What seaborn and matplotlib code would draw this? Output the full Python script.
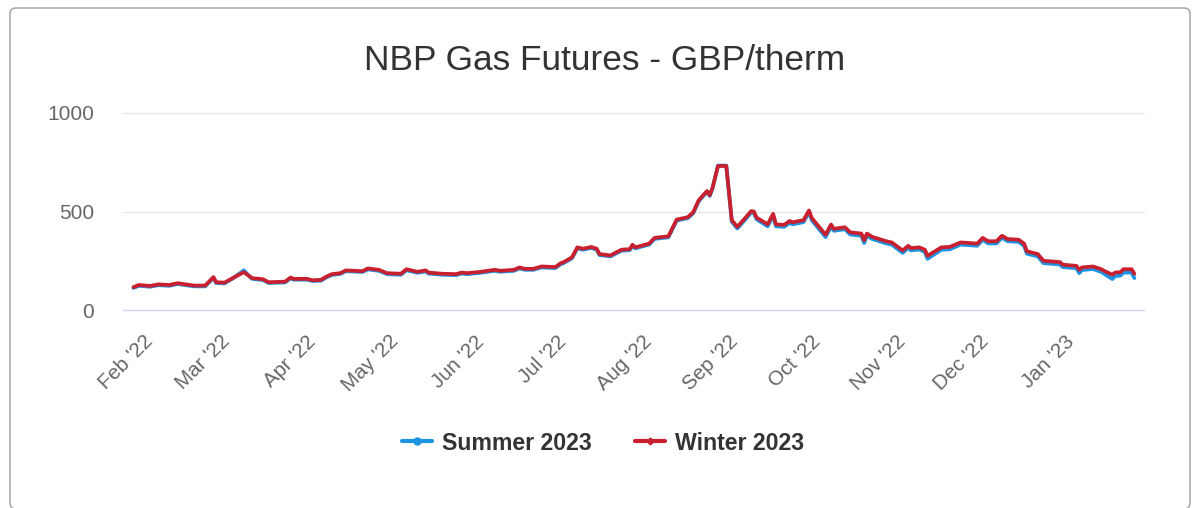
"""NBP gas futures chart, Highcharts-like styling via seaborn."""

import matplotlib

matplotlib.use("Agg")
import matplotlib.dates as mdates
import matplotlib.pyplot as plt
import numpy as np
import pandas as pd
import seaborn as sns
from matplotlib.lines import Line2D
from matplotlib.patches import FancyBboxPatch
from matplotlib.transforms import IdentityTransform

# --- data (GBP/therm) ---
dates = [
    "2022-01-26", "2022-01-28", "2022-02-01", "2022-02-04", "2022-02-08", "2022-02-11",
    "2022-02-17", "2022-02-21", "2022-02-24", "2022-02-25", "2022-02-28", "2022-03-03",
    "2022-03-07", "2022-03-10", "2022-03-14", "2022-03-16", "2022-03-22", "2022-03-24",
    "2022-03-25", "2022-03-30", "2022-04-01", "2022-04-04", "2022-04-06", "2022-04-08",
    "2022-04-11", "2022-04-13", "2022-04-19", "2022-04-21", "2022-04-25", "2022-04-28",
    "2022-05-03", "2022-05-05", "2022-05-09", "2022-05-12", "2022-05-13", "2022-05-18",
    "2022-05-23", "2022-05-25", "2022-05-27", "2022-06-01", "2022-06-06", "2022-06-08",
    "2022-06-13", "2022-06-15", "2022-06-17", "2022-06-20", "2022-06-23", "2022-06-28",
    "2022-06-30", "2022-07-01", "2022-07-04", "2022-07-06", "2022-07-08", "2022-07-11",
    "2022-07-13", "2022-07-14", "2022-07-18", "2022-07-20", "2022-07-22", "2022-07-25",
    "2022-07-26", "2022-07-27", "2022-08-01", "2022-08-03", "2022-08-08", "2022-08-11",
    "2022-08-15", "2022-08-17", "2022-08-19", "2022-08-22", "2022-08-23", "2022-08-24",
    "2022-08-26", "2022-08-29", "2022-08-31", "2022-09-02", "2022-09-05", "2022-09-07",
    "2022-09-08", "2022-09-09", "2022-09-13", "2022-09-15", "2022-09-16", "2022-09-19",
    "2022-09-21", "2022-09-22", "2022-09-26", "2022-09-28", "2022-09-29", "2022-10-04",
    "2022-10-06", "2022-10-07", "2022-10-11", "2022-10-13", "2022-10-17", "2022-10-18",
    "2022-10-19", "2022-10-21", "2022-10-26", "2022-10-28", "2022-11-01", "2022-11-03",
    "2022-11-04", "2022-11-07", "2022-11-09", "2022-11-10", "2022-11-15", "2022-11-18",
    "2022-11-22", "2022-11-28", "2022-11-30", "2022-12-02", "2022-12-05", "2022-12-07",
    "2022-12-09", "2022-12-13", "2022-12-15", "2022-12-16", "2022-12-20", "2022-12-22",
    "2022-12-28", "2022-12-29", "2023-01-03", "2023-01-04", "2023-01-05", "2023-01-09",
    "2023-01-12", "2023-01-13", "2023-01-16", "2023-01-17", "2023-01-19", "2023-01-20",
    "2023-01-23", "2023-01-24",
]

winter_2023 = [
    116, 127, 122, 130, 127, 136, 124, 124, 167, 141, 139, 162,
    192, 162, 156, 141, 144, 165, 158, 158, 151, 153, 170, 182,
    187, 201, 197, 211, 204, 187, 184, 207, 194, 201, 190, 184,
    182, 190, 187, 194, 204, 199, 204, 216, 209, 209, 221, 218,
    238, 243, 267, 318, 311, 320, 311, 284, 277, 292, 306, 309,
    331, 318, 337, 366, 374, 459, 471, 496, 557, 604, 583, 620,
    731, 731, 456, 422, 469, 502, 500, 469, 435, 488, 435, 432,
    452, 445, 456, 505, 467, 382, 434, 412, 420, 394, 388, 354,
    388, 371, 349, 343, 302, 326, 314, 318, 306, 275, 318, 320,
    343, 337, 366, 349, 349, 377, 360, 357, 337, 298, 284, 250,
    243, 230, 224, 204, 216, 221, 207, 199, 179, 190, 192, 207,
    207, 184,
]

summer_2023 = [
    112, 123, 118, 126, 123, 132, 120, 120, 163, 137, 135, 160,
    201, 158, 152, 137, 140, 161, 154, 154, 147, 149, 166, 178,
    183, 197, 193, 206, 199, 182, 179, 202, 189, 196, 185, 179,
    177, 185, 182, 189, 199, 194, 199, 211, 204, 204, 216, 213,
    233, 238, 262, 313, 306, 315, 306, 279, 272, 287, 301, 304,
    326, 313, 332, 361, 369, 454, 466, 491, 552, 600, 579, 617,
    733, 733, 448, 414, 461, 494, 492, 460, 425, 478, 425, 422,
    442, 435, 446, 497, 456, 370, 424, 402, 410, 383, 377, 340,
    377, 360, 338, 332, 290, 315, 303, 307, 295, 260, 306, 308,
    332, 326, 356, 338, 338, 367, 349, 346, 326, 286, 272, 238,
    231, 218, 212, 187, 203, 208, 193, 184, 157, 172, 175, 190,
    190, 162,
]

series_names = ["Summer 2023", "Winter 2023"]
series_colors = ["#1d93e3", "#c8202f"]
y_ticks = [0, 500, 1000]

# --- styling ---
sns.set_style("white")
plt.rcParams["font.family"] = ["Liberation Sans", "DejaVu Sans"]

W, H, DPI = 1200, 508, 100
fig = plt.figure(figsize=(W / DPI, H / DPI), dpi=DPI)

# outer rounded frame, in pixel coordinates
frame = FancyBboxPatch(
    (10, -1), 1180, 501, boxstyle="round,pad=0,rounding_size=6",
    transform=IdentityTransform(), facecolor="none", edgecolor="#adadad",
    linewidth=1.2, zorder=0,
)
fig.patches.append(frame)

ax = fig.add_axes([123 / W, 1 - 310 / H, (1144 - 123) / W, (310 - 113) / H])

df = pd.DataFrame({"date": pd.to_datetime(dates), "Summer 2023": summer_2023,
                   "Winter 2023": winter_2023})
long = df.melt(id_vars="date", var_name="series", value_name="price")

sns.lineplot(
    data=long, x="date", y="price", hue="series", hue_order=series_names,
    palette=series_colors, linewidth=2.7, estimator=None, legend=False, ax=ax,
)

x0 = pd.Timestamp("2022-02-01")
ax.set_xlim(x0 - pd.Timedelta(days=9.8), x0 + pd.Timedelta(days=360.5))
ax.set_ylim(0, 1000)
ax.set_yticks(y_ticks)
ax.set_xlabel("")
ax.set_ylabel("")

for v in y_ticks[1:]:
    ax.axhline(v, color="#e6e6e6", linewidth=1.0, zorder=0, clip_on=False)

for side in ("left", "right", "top"):
    ax.spines[side].set_visible(False)
ax.spines["bottom"].set_color("#ccd6eb")
ax.spines["bottom"].set_linewidth(1.0)

ax.xaxis.set_major_locator(mdates.MonthLocator())
ax.xaxis.set_major_formatter(mdates.DateFormatter("%b '%y"))
ax.tick_params(axis="x", length=13, width=0.8, color="#ccd6eb", pad=7.5,
               labelsize=14.8, labelcolor="#666666")
ax.tick_params(axis="y", length=0, pad=21, labelsize=15, labelcolor="#666666")
for lbl in ax.get_xticklabels():
    lbl.set_rotation(45)
    lbl.set_ha("right")
    lbl.set_va("center")
    lbl.set_rotation_mode("anchor")

fig.text(0.504, 1 - 60 / H, "NBP Gas Futures - GBP/therm", ha="center",
         va="center", fontsize=25.4, color="#333333")

handles = [
    Line2D([], [], color=series_colors[0], linewidth=3, marker="o", markersize=5),
    Line2D([], [], color=series_colors[1], linewidth=3, marker="D", markersize=3.5),
]
fig.legend(
    handles, series_names, loc="center", bbox_to_anchor=(0.5025, 1 - 443 / H),
    ncol=2, frameon=False, handlelength=1.3, handletextpad=0.45,
    columnspacing=1.85, prop={"weight": "bold", "size": 16.7},
    labelcolor="#333333",
)

fig.savefig("out.png", dpi=DPI)
